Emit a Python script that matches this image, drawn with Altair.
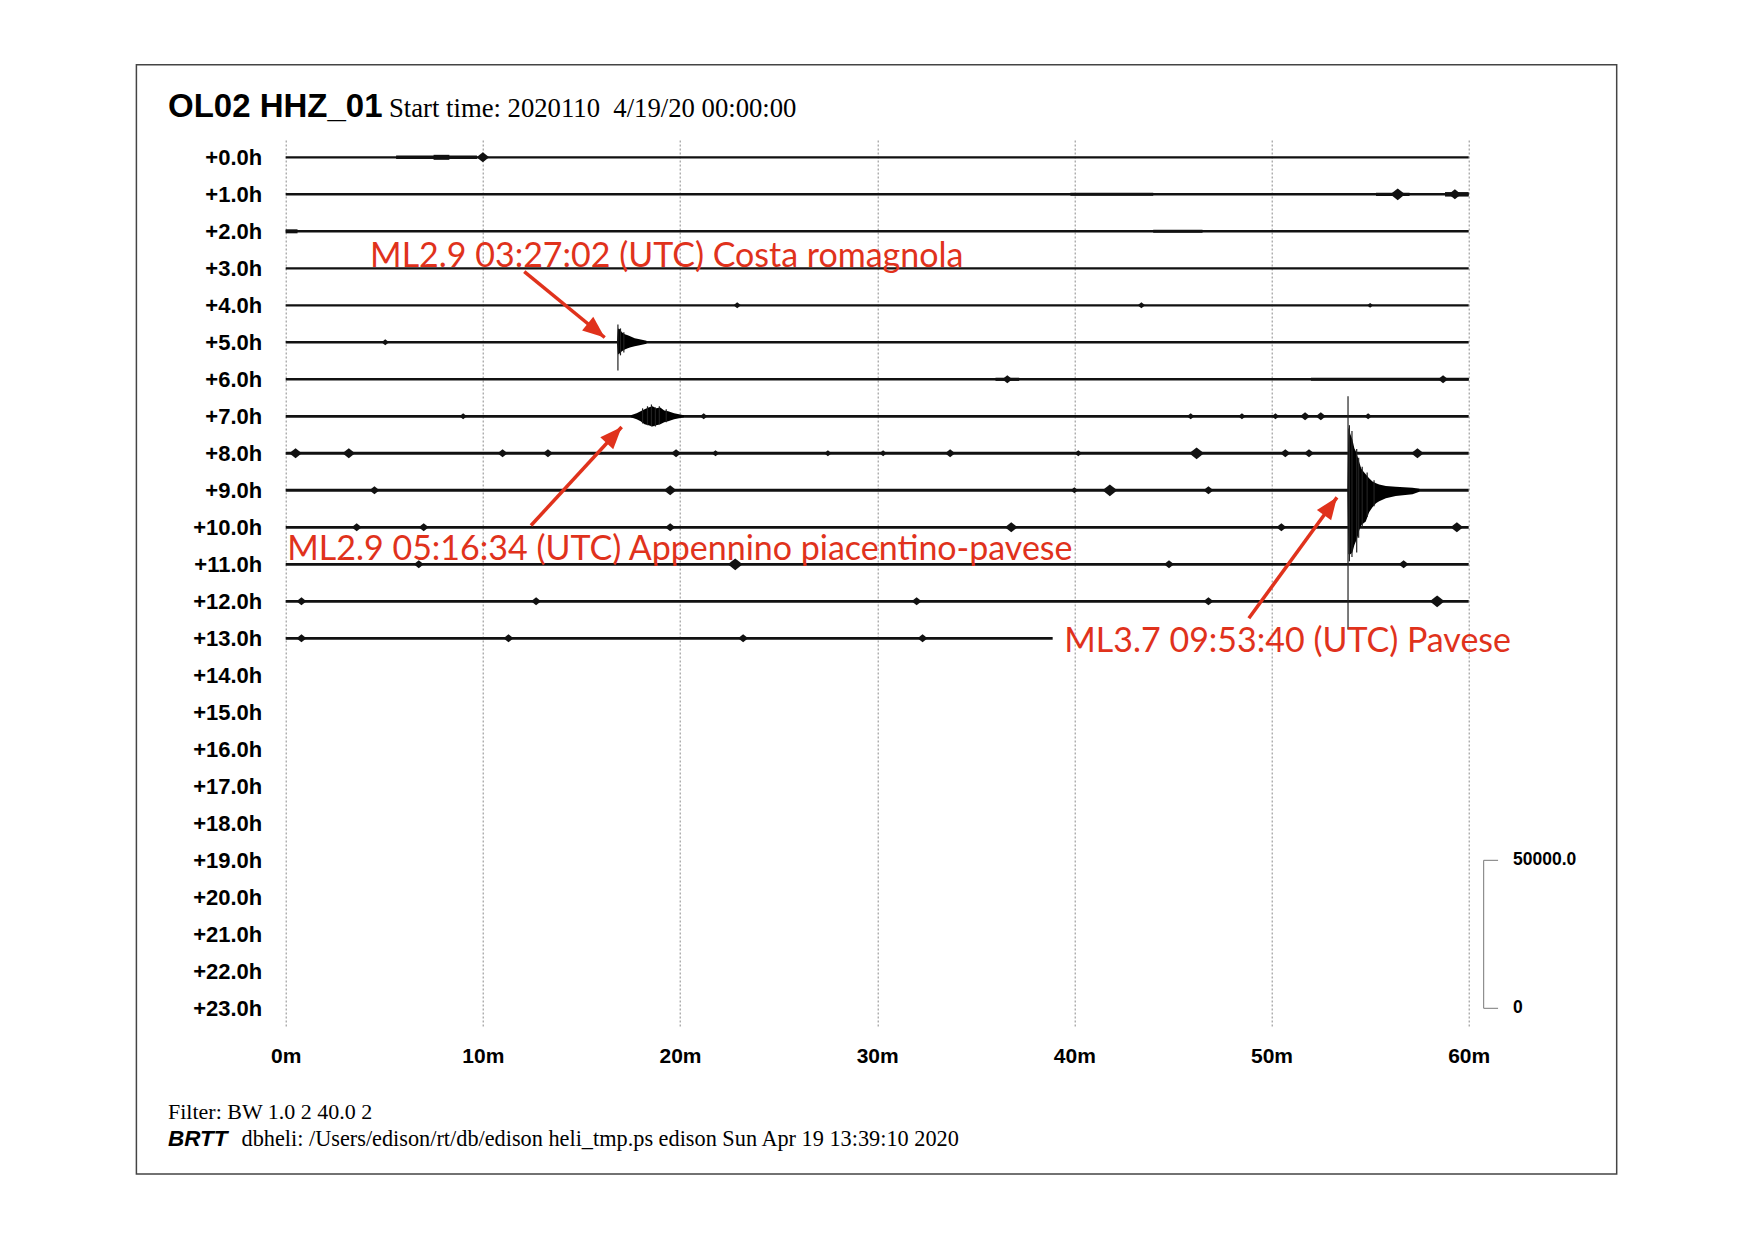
import math
import altair as alt
import pandas as pd

# ---------------- data ----------------
HOURS = list(range(24))                      # helicorder rows (+0.0h ... +23.0h)
MINUTE_TICKS = [0, 10, 20, 30, 40, 50, 60]

TRACE_ROWS = list(range(14))
TRACE_END = [60] * 13 + [38.9]               # row 13 stops at ~38.9 min
TRACE_WIDTH = [2.2, 2.4, 2.4, 2.2, 2.2, 2.4, 2.6, 2.8, 3.0, 3.0, 2.8, 2.8, 2.8, 2.8]

# noisier (thicker) stretches of trace
SEG_ROW = [0, 0, 1, 1, 1, 2, 2, 6, 6]
SEG_START = [5.6, 7.5, 39.8, 55.3, 58.8, 0.0, 44.0, 36.0, 52.0]
SEG_END = [9.7, 8.3, 44.0, 57.0, 60.0, 0.6, 46.5, 37.2, 60.0]
SEG_WIDTH = [3.5, 5.0, 3.0, 3.2, 4.5, 4.0, 3.0, 3.2, 3.0]

# small bursts (row, minute, half amplitude in counts)
BLIP_ROW = [0, 1, 1, 4, 4, 4, 5, 6, 6,
            7, 7, 7, 7, 7, 7, 7, 7,
            8, 8, 8, 8, 8, 8, 8, 8, 8, 8, 8, 8, 8, 8,
            9, 9, 9, 9, 9,
            10, 10, 10, 10, 10, 10,
            11, 11, 11, 11,
            12, 12, 12, 12, 12,
            13, 13, 13, 13]
BLIP_MIN = [10.0, 56.4, 59.3, 22.9, 43.4, 55.0, 5.05, 36.6, 58.7,
            9.0, 21.2, 45.9, 48.5, 50.2, 51.7, 52.5, 54.9,
            0.5, 3.2, 11.0, 13.3, 19.8, 21.8, 27.5, 30.3, 33.7, 40.2, 46.2, 50.7, 51.9, 57.4,
            4.5, 19.5, 40.0, 41.8, 46.8,
            3.6, 7.0, 19.5, 36.8, 50.5, 59.4,
            6.75, 22.8, 44.8, 56.7,
            0.8, 12.7, 32.0, 46.8, 58.4,
            0.8, 11.3, 23.2, 32.3]
BLIP_AMP = [1700, 2000, 1700, 1000, 1000, 800, 1000, 1350, 1350,
            1000, 1000, 1000, 1000, 1000, 1350, 1350, 1000,
            1700, 1700, 1350, 1350, 1350, 1000, 1000, 1000, 1350, 1000, 2000, 1350, 1350, 1700,
            1350, 1700, 1000, 2000, 1350,
            1350, 1350, 1350, 1700, 1350, 1700,
            1350, 2000, 1350, 1350,
            1350, 1350, 1350, 1350, 2000,
            1350, 1350, 1350, 1350]

# single large swings (row, minute, up counts, down counts)
SPIKE_ROW = [5, 5, 5, 9, 9, 9, 9, 9, 9, 9, 9,
             7, 7, 7, 7, 7, 7]
SPIKE_MIN = [16.85, 16.98, 17.15, 53.88, 53.95, 54.08, 54.32, 54.42, 54.60, 54.85, 55.20,
             18.10, 18.35, 18.55, 18.75, 18.95, 19.30]
SPIKE_UP = [6000, 4700, 3400, 31800, 22000, 20000, 14000, 11000, 8000, 6000, 3400,
            2700, 3400, 4000, 3000, 3400, 2400]
SPIKE_DOWN = [9500, 4400, 3400, 47000, 24000, 22500, 21000, 16000, 12500, 9000, 5400,
              2400, 3000, 3400, 3400, 2700, 2000]

# event envelopes (counts)
EV5_MIN = [16.80, 16.85, 16.95, 17.05, 17.20, 17.35, 17.50, 17.70, 17.95, 18.30]
EV5_UP = [340, 4700, 4400, 3400, 2700, 2400, 2000, 1350, 1000, 500]
EV5_DOWN = [340, 4100, 3700, 3000, 2400, 2000, 1700, 1350, 1000, 500]

EV7_MIN = [17.5, 17.8, 18.0, 18.2, 18.4, 18.6, 18.8, 19.0, 19.2, 19.4, 19.7, 20.2]
EV7_UP = [340, 1000, 1700, 2400, 3000, 3400, 2700, 3000, 2000, 1700, 1000, 340]
EV7_DOWN = [340, 1000, 1700, 2700, 3000, 3400, 3000, 2700, 2000, 1700, 1000, 340]

EV9_MIN = [53.85, 53.90, 54.00, 54.10, 54.20, 54.30, 54.36, 54.45, 54.55, 54.65,
           54.78, 54.95, 55.12, 55.30, 55.46, 55.80, 56.30, 57.15, 57.50]
EV9_UP = [340, 21300, 18900, 17200, 14200, 12800, 11500, 9500, 7400, 6400,
          5400, 4100, 3000, 2400, 2000, 1500, 1200, 900, 500]
EV9_DOWN = [340, 21600, 21600, 21000, 18600, 16900, 15900, 13500, 11800, 11200,
            10500, 7400, 5700, 4400, 3700, 2700, 1900, 1350, 500]

# amplitude scale bar
SCALE_COUNTS = [0, 50000]
SCALE_LABELS = ["0", "50000.0"]
SCALE_BASE_ROW = 23

# annotations
ANN_TEXT = ["ML2.9 03:27:02 (UTC) Costa romagnola",
            "ML2.9 05:16:34 (UTC) Appennino piacentino-pavese",
            "ML3.7 09:53:40 (UTC) Pavese"]
ANN_MIN = [4.28, 0.08, 39.49]
ANN_ROW = [2.97, 10.87, 13.37]
ARROW_MIN0 = [12.10, 12.44, 48.85]
ARROW_ROW0 = [3.09, 9.95, 12.46]
ARROW_MIN1 = [16.18, 17.04, 53.32]
ARROW_ROW1 = [4.87, 7.29, 9.19]

TITLE_MAIN = "OL02 HHZ_01"
TITLE_SUB = "Start time: 2020110\u00a0 4/19/20 00:00:00"
FOOT_1 = "Filter: BW 1.0 2 40.0 2"
FOOT_BRTT = "BRTT"
FOOT_2 = "dbheli: /Users/edison/rt/db/edison heli_tmp.ps edison Sun Apr 19 13:39:10 2020"

# ---------------- layout ----------------
W, H = 1183, 886
X_DOM = [0, 60]
Y_DOM = [-0.468, 23.478]
COUNTS_PER_ROW = 12500.0          # 50000 counts span 4 rows on the scale bar
PX_PER_MIN = W / (X_DOM[1] - X_DOM[0])
PX_PER_ROW = H / (Y_DOM[1] - Y_DOM[0])
COUNTS_PER_PX = COUNTS_PER_ROW / PX_PER_ROW
RED = "#e0321c"
SANS = "Liberation Sans, Arial, Helvetica, sans-serif"
SERIF = "Liberation Serif, Times New Roman, serif"
ANN_FONT = "Lato, Calibri, sans-serif"

xs = alt.Scale(domain=X_DOM, nice=False, zero=False)
ys = alt.Scale(domain=Y_DOM, nice=False, zero=False, reverse=True)

X_AXIS = alt.Axis(values=MINUTE_TICKS, labelExpr="datum.value + 'm'",
                  labelFont=SANS, labelFontSize=21, labelFontWeight="bold",
                  labelColor="#000", labelPadding=20, labelFlush=False,
                  ticks=False, tickSize=0, domain=False,
                  grid=True, gridColor="#8a8a8a", gridDash=[2, 2], gridWidth=1)
Y_AXIS = alt.Axis(values=HOURS, labelExpr="'+' + format(datum.value, '.1f') + 'h'",
                  labelFont=SANS, labelFontSize=22, labelFontWeight="bold",
                  labelColor="#000", labelPadding=24, labelFlush=False,
                  labelOverlap=False, ticks=False, tickSize=0, domain=False,
                  grid=False)


def X(field):
    return alt.X(field, scale=xs, axis=X_AXIS, title=None)


def Y(field):
    return alt.Y(field, scale=ys, axis=Y_AXIS, title=None)


# ---------------- tables ----------------
traces = pd.DataFrame({"row": TRACE_ROWS, "m0": [0.0] * len(TRACE_ROWS),
                       "m1": TRACE_END, "w": TRACE_WIDTH})
segs = pd.DataFrame({"row": SEG_ROW, "m0": SEG_START, "m1": SEG_END, "w": SEG_WIDTH})
blips = pd.DataFrame({"row": BLIP_ROW, "m": BLIP_MIN, "amp": BLIP_AMP})
spikes = pd.DataFrame({"row": SPIKE_ROW, "m": SPIKE_MIN, "up": SPIKE_UP, "down": SPIKE_DOWN})
events = pd.concat([
    pd.DataFrame({"ev": "e5", "row": 5, "m": EV5_MIN, "up": EV5_UP, "down": EV5_DOWN}),
    pd.DataFrame({"ev": "e7", "row": 7, "m": EV7_MIN, "up": EV7_UP, "down": EV7_DOWN}),
    pd.DataFrame({"ev": "e9", "row": 9, "m": EV9_MIN, "up": EV9_UP, "down": EV9_DOWN}),
], ignore_index=True)
hours = pd.DataFrame({"h": HOURS})
ann = pd.DataFrame({"t": ANN_TEXT, "m": ANN_MIN, "row": ANN_ROW})
arrows = pd.DataFrame({"m0": ARROW_MIN0, "r0": ARROW_ROW0, "m1": ARROW_MIN1, "r1": ARROW_ROW1})
arrows["ang"] = [
    math.degrees(math.atan2((b - a) * PX_PER_MIN, -(d - c) * PX_PER_ROW)) % 360
    for a, b, c, d in zip(arrows.m0, arrows.m1, arrows.r0, arrows.r1)
]
scalebar = pd.DataFrame({"c": SCALE_COUNTS, "lab": SCALE_LABELS})

amp_calc = dict(top=f"datum.row - datum.up / {COUNTS_PER_ROW}",
                bot=f"datum.row + datum.down / {COUNTS_PER_ROW}")

# ---------------- layers ----------------
axes_layer = alt.Chart(hours).mark_point(opacity=0).encode(x=X("h:Q"), y=Y("h:Q"))

trace_layer = alt.Chart(traces).mark_rule(color="#111").encode(
    x=X("m0:Q"), x2="m1:Q", y=Y("row:Q"),
    size=alt.Size("w:Q", scale=None, legend=None))

seg_layer = alt.Chart(segs).mark_rule(color="#111").encode(
    x=X("m0:Q"), x2="m1:Q", y=Y("row:Q"),
    size=alt.Size("w:Q", scale=None, legend=None))

# bursts drawn as small spindles: half-height = amplitude, half-width = 1.25 x half-height
blip_layer = alt.Chart(blips).transform_calculate(
    sz=f"4 * pow(datum.amp / {COUNTS_PER_PX} / 0.8, 2)").mark_point(
    shape="M-1,0L0,-0.8L1,0L0,0.8Z", filled=True, color="#111", opacity=1).encode(
    x=X("m:Q"), y=Y("row:Q"), size=alt.Size("sz:Q", scale=None, legend=None))

event_layer = alt.Chart(events).transform_calculate(**amp_calc).mark_area(
    color="#000", interpolate="linear").encode(
    x=X("m:Q"), y=Y("top:Q"), y2="bot:Q", detail="ev:N")

spike_layer = alt.Chart(spikes).transform_calculate(**amp_calc).mark_rule(
    color="#222", strokeWidth=1.2).encode(
    x=X("m:Q"), y=Y("top:Q"), y2="bot:Q")

# scale bar (50000 counts = 4 rows)
sb = alt.Chart(scalebar).transform_calculate(
    yy=f"{SCALE_BASE_ROW} - datum.c / {COUNTS_PER_ROW}")
sb_vert = sb.transform_aggregate(y0="min(yy)", y1="max(yy)").mark_rule(
    color="#777", strokeWidth=1).encode(
    x=alt.value(60.76 * PX_PER_MIN), y=Y("y0:Q"), y2="y1:Q")
sb_ticks = sb.mark_rule(color="#777", strokeWidth=1).encode(
    x=alt.value(60.76 * PX_PER_MIN), x2=alt.value(61.49 * PX_PER_MIN), y=Y("yy:Q"))
sb_text = sb.mark_text(align="left", baseline="middle", font=SANS, fontSize=17.5,
                       fontWeight="bold", color="#000").encode(
    x=alt.value(62.25 * PX_PER_MIN), y=Y("yy:Q"), text="lab:N")

ann_text = alt.Chart(ann).mark_text(align="left", baseline="alphabetic", font=ANN_FONT,
                                    fontSize=34, color=RED).encode(
    x=X("m:Q"), y=Y("row:Q"), text="t:N")

arrow_lines = alt.Chart(arrows).mark_rule(color=RED, strokeWidth=3.5).encode(
    x=X("m0:Q"), x2="m1:Q", y=Y("r0:Q"), y2="r1:Q")
arrow_heads = alt.Chart(arrows).mark_point(
    shape="M0,0L0.8,2L-0.8,2Z", filled=True, color=RED, opacity=1, size=484).encode(
    x=X("m1:Q"), y=Y("r1:Q"), angle=alt.Angle("ang:Q", scale=None))

# frame and header / footer texts (pixel positions relative to plot origin)
frame = alt.Chart(pd.DataFrame({"k": [0]})).mark_rect(
    fillOpacity=0, stroke="#444", strokeWidth=1.5).encode(
    x=alt.value(-149.3), x2=alt.value(1331.0), y=alt.value(-75.2), y2=alt.value(1034.0))


def label(txt, x, y, font, size, weight="normal", style="normal"):
    return alt.Chart(pd.DataFrame({"t": [txt]})).mark_text(
        align="left", baseline="alphabetic", font=font, fontSize=size,
        fontWeight=weight, fontStyle=style, color="#000").encode(
        x=alt.value(x), y=alt.value(y), text="t:N")


t_main = label(TITLE_MAIN, -117.7, -23.0, SANS, 33, "bold")
t_sub = label(TITLE_SUB, 103.3, -23.0, SERIF, 26.7)
f_1 = label(FOOT_1, -117.7, 979.0, SERIF, 22)
f_brtt = label(FOOT_BRTT, -117.7, 1006.0, SANS, 22.5, "bold", "italic")
f_2 = label(FOOT_2, -44.2, 1006.0, SERIF, 22.3)

chart = alt.layer(
    axes_layer, frame, trace_layer, seg_layer, blip_layer, event_layer, spike_layer,
    sb_vert, sb_ticks, sb_text, arrow_lines, arrow_heads, ann_text,
    t_main, t_sub, f_1, f_brtt, f_2,
).properties(
    width=W, height=H,
    autosize=alt.AutoSizeParams(type="none"),
    padding={"left": 277.7, "top": 132, "right": 240, "bottom": 190},
    background="white",
).configure_view(strokeWidth=0)

chart.save("out.html", embed_options={"renderer": "svg", "actions": False})
